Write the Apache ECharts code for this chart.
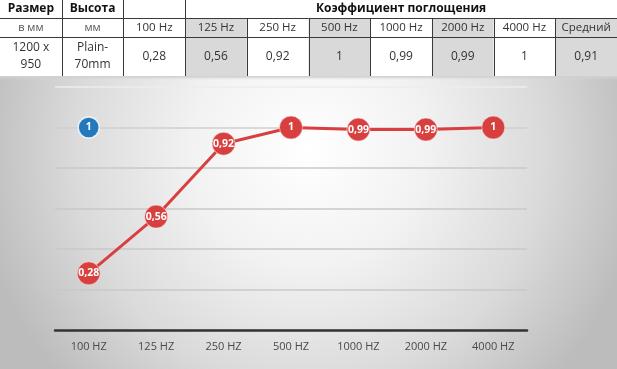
<!DOCTYPE html>
<html>
<head>
<meta charset="utf-8">
<script src="https://cdn.jsdelivr.net/npm/echarts@6/dist/echarts.min.js"></script>
<style>
html,body{margin:0;padding:0;background:#fff;}
#c{width:617px;height:369px;}
</style>
</head>
<body>
<div id="c"></div>
<script>
// ---- data ----
const categories = ['100 HZ', '125 HZ', '250 HZ', '500 HZ', '1000 HZ', '2000 HZ', '4000 HZ'];
const absorption = [0.28, 0.56, 0.92, 1, 0.99, 0.99, 1];
const bluePoint = [1, null, null, null, null, null, null];
const headSize = 'Размер';
const headHeight = 'Высота';
const headCoef = 'Коэффициент поглощения';
const unitSize = 'в мм';
const unitHeight = 'мм';
const freqHeaders = ['100 Hz', '125 Hz', '250 Hz', '500 Hz', '1000 Hz', '2000 Hz', '4000 Hz', 'Средний'];
const sizeValue = '1200 x\n950';
const heightValue = 'Plain-\n70mm';
const tableValues = ['0,28', '0,56', '0,92', '1', '0,99', '0,99', '1', '0,91'];

// ---- table built as graphics ----
const W = 617;
const nCols = 10;
const colW = W / nCols;
const rowY = [0, 18, 37, 76];
const font = '"Open Sans", "Liberation Sans", sans-serif';
const lineColor = '#3a3a3a';
const g = [];

// background of chart area
g.push({
  type: 'rect', z: -10, silent: true,
  shape: { x: 0, y: 77, width: W, height: 369 - 77 },
  style: {
    fill: {
      type: 'radial', x: 0.5, y: 0.25, r: 1.15,
      colorStops: [
        { offset: 0, color: '#ffffff' },
        { offset: 0.35, color: '#f2f2f2' },
        { offset: 0.7, color: '#dadada' },
        { offset: 1, color: '#bcbcbc' }
      ]
    }
  }
});
g.push({
  type: 'rect', z: -9, silent: true,
  shape: { x: 0, y: 76, width: W, height: 4 },
  style: { fill: { type: 'linear', x: 0, y: 0, x2: 0, y2: 1, colorStops: [{ offset: 0, color: '#c8c8c8' }, { offset: 1, color: 'rgba(220,220,220,0)' }] } }
});

// gray cell fills
for (let i = 3; i < nCols; i += 2) {
  g.push({ type: 'rect', silent: true, shape: { x: i * colW, y: rowY[1], width: colW, height: rowY[3] - rowY[1] }, style: { fill: '#d9d9d9' } });
}
// horizontal lines
[rowY[1], rowY[2]].forEach(y => {
  g.push({ type: 'line', silent: true, shape: { x1: 0, y1: y + 0.5, x2: W, y2: y + 0.5 }, style: { stroke: lineColor, lineWidth: 1 } });
});
// vertical lines
for (let i = 1; i < nCols; i++) {
  const x = Math.round(i * colW) + 0.5;
  const y1 = i <= 3 ? 0 : rowY[1];
  g.push({ type: 'line', silent: true, shape: { x1: x, y1: y1, x2: x, y2: rowY[3] }, style: { stroke: lineColor, lineWidth: 1 } });
}
function cellText(text, col, row, opts) {
  const span = (opts && opts.span) || 1;
  g.push({
    type: 'text', silent: true,
    x: col * colW + span * colW / 2,
    y: (rowY[row] + rowY[row + 1]) / 2 + ((opts && opts.dy) || 0),
    style: Object.assign({
      text: text, align: 'center', verticalAlign: 'middle',
      fontFamily: font, fontSize: 11.5, fill: '#333', lineHeight: 17
    }, (opts && opts.style) || {})
  });
}
const bold = { fontWeight: 'bold', fill: '#111', fontSize: 12 };
cellText(headSize, 0, 0, { style: bold });
cellText(headHeight, 1, 0, { style: bold });
cellText(headCoef, 3, 0, { span: 7, style: bold });
cellText(unitSize, 0, 1, { style: { fill: '#555', fontSize: 11 } });
cellText(unitHeight, 1, 1, { style: { fill: '#555', fontSize: 11 } });
freqHeaders.forEach((t, i) => cellText(t, i + 2, 1));
cellText(sizeValue, 0, 2, { style: { fontSize: 12 } });
cellText(heightValue, 1, 2, { style: { fontSize: 12 } });
tableValues.forEach((t, i) => cellText(t, i + 2, 2, { style: { fontSize: 12 } }));

const chart = echarts.init(document.getElementById('c'), null, { renderer: 'canvas' });
const fmt = p => String(p.value).replace('.', ',');
chart.setOption({
  animation: false,
  backgroundColor: '#ffffff',
  graphic: g,
  grid: { left: 55, right: 90, top: 87, bottom: 39 },
  xAxis: {
    type: 'category', data: categories, boundaryGap: true,
    axisLine: { lineStyle: { color: '#333', width: 2.5 } },
    axisTick: { show: false },
    axisLabel: { color: '#4a4a4a', fontFamily: font, fontSize: 11, margin: 11 }
  },
  yAxis: {
    type: 'value', min: 0, max: 1.2, interval: 0.2,
    axisLabel: { show: false }, axisLine: { show: false }, axisTick: { show: false },
    splitLine: { lineStyle: { color: ['#c9c9c9', '#c9c9c9', '#c9c9c9', '#c9c9c9', '#c9c9c9', '#cfcfcf', '#ececec'], width: 1.5 } }
  },
  series: [
    {
      type: 'line', data: absorption, symbol: 'circle', symbolSize: 23,
      lineStyle: { color: '#d8403f', width: 3 },
      itemStyle: { color: '#d8403f', borderColor: 'rgba(255,255,255,0.5)', borderWidth: 1 },
      label: { show: true, position: 'inside', formatter: fmt, color: '#fff', fontWeight: 'bold', fontFamily: font, fontSize: 10.5 },
      z: 3
    },
    {
      type: 'line', data: bluePoint, symbol: 'circle', symbolSize: 21,
      lineStyle: { width: 0 },
      itemStyle: { color: '#2479bd', borderColor: 'rgba(255,255,255,0.8)', borderWidth: 1.5 },
      label: { show: true, position: 'inside', formatter: fmt, color: '#fff', fontWeight: 'bold', fontFamily: font, fontSize: 10.5 },
      z: 4
    }
  ]
});
</script>
</body>
</html>
